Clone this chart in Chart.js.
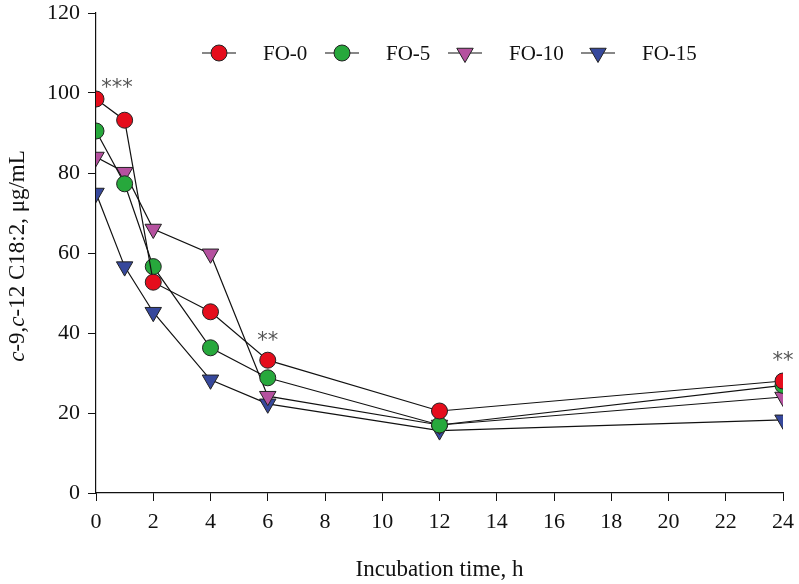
<!DOCTYPE html>
<html>
<head>
<meta charset="utf-8">
<title>c-9,c-12 C18:2</title>
<script src="https://cdn.jsdelivr.net/npm/chart.js@4.4.0/dist/chart.umd.min.js"></script>
<style>
  body { margin: 0; background: #fff; }
  #wrap { width: 799px; height: 584px; }
</style>
</head>
<body>
<div id="wrap"><canvas id="lineChart" width="799" height="584"></canvas></div>
<script>
// incubation hours
var hours = [0, 1, 2, 4, 6, 12, 24];
var fo0  = [98.5, 93.2, 52.7, 45.3, 33.2, 20.5, 28.0];
var fo5  = [90.5, 77.3, 56.6, 36.3, 28.8, 17.0, 26.9];
var fo10 = [84.0, 80.2, 66.0, 59.8, 24.2, 17.0, 24.0];
var fo15 = [75.0, 56.6, 45.2, 28.3, 22.3, 15.6, 18.3];
var seriesNames = ["FO-0", "FO-5", "FO-10", "FO-15"];
// significance marks: [hour, value it sits above, text]
var sigMarks = [[0, 98.5, "***"], [6, 33.2, "**"], [24, 28.0, "**"]];

var serif = "'Liberation Serif', 'DejaVu Serif', serif";

function pts(vals) {
	return hours.map(function (h, i) { return { x: h, y: vals[i] }; });
}

function makeSet(name, vals, color, style) {
	return {
		label: name,
		data: pts(vals),
		borderColor: '#111',
		borderWidth: 1.2,
		backgroundColor: color,
		pointBackgroundColor: color,
		pointBorderColor: '#222',
		pointBorderWidth: 1,
		pointStyle: style,
		pointRotation: style === 'triangle' ? 180 : 0,
		pointRadius: style === 'triangle' ? 9.5 : 8,
		pointHoverRadius: 8,
		tension: 0,
		fill: false
	};
}

var sets = [
	makeSet(seriesNames[0], fo0, '#e50d1c', 'circle'),
	makeSet(seriesNames[1], fo5, '#27a83c', 'circle'),
	makeSet(seriesNames[2], fo10, '#b5519f', 'triangle'),
	makeSet(seriesNames[3], fo15, '#36489c', 'triangle')
];

// legend with the line through the marker, plus asterisks and the y title
var extras = {
	id: 'extras',
	afterDraw: function (chart) {
		var ctx = chart.ctx;
		var xs = chart.scales.x, ys = chart.scales.y;
		ctx.save();

		// legend
		var legX = [219, 342, 465, 598];
		var legY = 53;
		ctx.font = '21px ' + serif;
		ctx.textBaseline = 'middle';
		ctx.fillStyle = '#111';
		chart.data.datasets.forEach(function (ds, i) {
			var cx = legX[i];
			ctx.strokeStyle = '#111';
			ctx.lineWidth = 1.2;
			ctx.beginPath();
			ctx.moveTo(cx - 17, legY);
			ctx.lineTo(cx + 17, legY);
			ctx.stroke();
			ctx.fillStyle = ds.pointBackgroundColor;
			ctx.strokeStyle = '#222';
			ctx.lineWidth = 1;
			Chart.helpers.drawPoint(ctx, {
				pointStyle: ds.pointStyle,
				rotation: ds.pointRotation,
				radius: ds.pointRadius,
				borderWidth: 1
			}, cx, legY);
			ctx.fillStyle = '#111';
			ctx.textAlign = 'left';
			ctx.fillText(ds.label, cx + 44, legY + 1);
		});

		// significance asterisks
		ctx.font = '21px ' + "'DejaVu Sans', sans-serif";
		ctx.fillStyle = '#555';
		ctx.textAlign = 'center';
		sigMarks.forEach(function (m) {
			var px = xs.getPixelForValue(m[0]);
			var py = ys.getPixelForValue(m[1]);
			if (m[0] === 0) {
				ctx.fillText(m[2], px + 21, py - 10);
			} else {
				ctx.fillText(m[2], px, py - 19);
			}
		});

		// y axis title with italic c
		var parts = [["c", true], ["-9,", false], ["c", true], ["-12 C18:2, \u03bcg/mL", false]];
		ctx.translate(18, (ys.top + ys.bottom) / 2 + 3);
		ctx.rotate(-Math.PI / 2);
		ctx.fillStyle = '#111';
		ctx.textBaseline = 'middle';
		ctx.textAlign = 'left';
		var total = 0;
		parts.forEach(function (p) {
			ctx.font = (p[1] ? 'italic ' : '') + '23px ' + serif;
			total += ctx.measureText(p[0]).width;
		});
		var pos = -total / 2;
		parts.forEach(function (p) {
			ctx.font = (p[1] ? 'italic ' : '') + '23px ' + serif;
			ctx.fillText(p[0], pos, 0);
			pos += ctx.measureText(p[0]).width;
		});
		ctx.restore();
	}
};

var ctxL = document.getElementById("lineChart").getContext('2d');
var myLineChart = new Chart(ctxL, {
	type: 'line',
	data: { datasets: sets },
	options: {
		responsive: false,
		animation: false,
		layout: { padding: { left: 0, right: 16, top: 13, bottom: 0 } },
		plugins: {
			legend: { display: false },
			tooltip: { enabled: false }
		},
		scales: {
			x: {
				type: 'linear',
				min: 0,
				max: 24,
				ticks: {
					stepSize: 2,
					color: '#111',
					font: { family: serif, size: 22 },
					padding: 8
				},
				grid: { drawOnChartArea: false, drawTicks: true, tickLength: 8, color: '#111' },
				border: { color: '#111', width: 1.2 },
				title: {
					display: true,
					text: 'Incubation time, h',
					color: '#111',
					font: { family: serif, size: 23 },
					padding: { top: 6, bottom: 0 }
				},
				afterFit: function (scale) {
					scale.height = 91;
					scale.paddingLeft = 0;
					scale.paddingRight = 0;
				}
			},
			y: {
				min: 0,
				max: 120,
				ticks: {
					stepSize: 20,
					color: '#111',
					font: { family: serif, size: 22 },
					padding: 8
				},
				grid: { drawOnChartArea: false, drawTicks: true, tickLength: 8, color: '#111' },
				border: { color: '#111', width: 1.2 },
				afterFit: function (scale) {
					scale.width = 96;
					scale.paddingTop = 0;
					scale.paddingBottom = 0;
				}
			}
		}
	},
	plugins: [extras]
});
</script>
</body>
</html>
